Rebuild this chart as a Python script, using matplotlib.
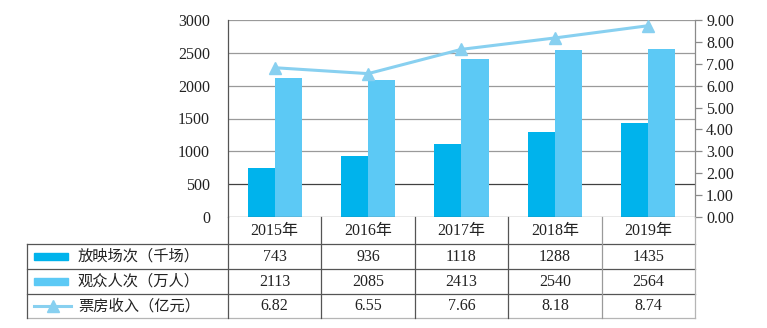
import matplotlib
matplotlib.use("Agg")
import matplotlib.pyplot as plt
from matplotlib.patches import Rectangle
from matplotlib.lines import Line2D
import numpy as np

plt.rcParams['font.family'] = ['Liberation Serif', 'Noto Sans CJK SC', 'DejaVu Sans']

years = ["2015年", "2016年", "2017年", "2018年", "2019年"]
screenings = [743, 936, 1118, 1288, 1435]        # 放映场次（千场）
audience = [2113, 2085, 2413, 2540, 2564]        # 观众人次（万人）
box_office = [6.82, 6.55, 7.66, 8.18, 8.74]      # 票房收入（亿元）
series_names = ["放映场次（千场）", "观众人次（万人）", "票房收入（亿元）"]
box_labels = ["6.82", "6.55", "7.66", "8.18", "8.74"]

c_dark = "#00B3EC"
c_light = "#5CC9F5"
c_line = "#88D0F0"

W, H = 767, 328
fig = plt.figure(figsize=(W / 100, H / 100), dpi=100)

def fx(px):
    return px / W

def fy(py):
    return 1 - py / H

x0, x1 = 228, 695
y_top, y_zero, y_bot = 20, 217, 318

ax = fig.add_axes([fx(x0), fy(y_zero), fx(x1 - x0), (y_zero - y_top) / H])
ax2 = ax.twinx()

x = np.arange(len(years))
bw = 0.29
ax.bar(x - bw / 2, screenings, width=bw, color=c_dark, zorder=3)
ax.bar(x + bw / 2, audience, width=bw, color=c_light, zorder=3)
ax.set_xlim(-0.5, len(years) - 0.5)
ax.set_ylim(0, 3000)
ax.set_yticks(np.arange(0, 3001, 500))
ax.set_xticks([])
for v in range(500, 3001, 500):
    ax.axhline(v, color="#404040" if v == 500 else "#9a9a9a", lw=0.9, zorder=1)
ax.axhline(0, color="#555555", lw=0.9, zorder=4)
for s in ["top", "bottom", "right"]:
    ax.spines[s].set_visible(False)
ax.spines["left"].set_color("#555555")
ax.spines["left"].set_linewidth(0.9)
ax.tick_params(axis="y", length=0, pad=13, labelsize=11.5, colors="#222222")

ax2.plot(x, box_office, color=c_line, lw=2.2, marker="^", ms=8.5, zorder=5)
ax2.set_ylim(0, 9)
ax2.set_yticks(np.arange(0, 9.01, 1))
ax2.set_yticklabels([f"{v:.2f}" for v in np.arange(0, 9.01, 1)])
for s in ["top", "bottom", "left"]:
    ax2.spines[s].set_visible(False)
ax2.spines["right"].set_color("#8a8a8a")
ax2.spines["right"].set_linewidth(0.9)
ax2.tick_params(axis="y", length=5, width=0.9, color="#8a8a8a", pad=3, labelsize=11.5, labelcolor="#222222")

# Data table below the plot
tl = 27
units_per_px = (len(years)) / (x1 - x0)
xleft = -0.5 - (x0 - tl) * units_per_px
tax = fig.add_axes([fx(tl), fy(y_bot), fx(x1 - tl), (y_bot - y_zero) / H])
tax.set_xlim(xleft, len(years) - 0.5)
tax.set_ylim(y_bot, y_zero)
tax.axis("off")

rows = [217, 244, 269, 294, 318]
dk = "#555555"
lt = "#b5b5b5"
# horizontal lines
for i, yy in enumerate(rows[1:]):
    col = lt if yy == 318 else dk
    tax.plot([xleft, len(years) - 0.5], [yy, yy], color=col, lw=0.9, clip_on=False)
# vertical lines
tax.plot([xleft, xleft], [244, 318], color=dk, lw=0.9, clip_on=False)
tax.plot([-0.5, -0.5], [217, 318], color=dk, lw=0.9, clip_on=False)
for b in [0.5, 1.5, 2.5]:
    tax.plot([b, b], [217, 318], color=dk, lw=0.9, clip_on=False)
tax.plot([3.5, 3.5], [217, 318], color="#9a9a9a", lw=0.9, clip_on=False)
tax.plot([4.5, 4.5], [217, 318], color=lt, lw=0.9, clip_on=False)

# year header
for i, yl in enumerate(years):
    tax.text(i, (217 + 244) / 2 + 1, yl, ha="center", va="center", fontsize=11.5, color="#222222")

row_vals = [[str(v) for v in screenings], [str(v) for v in audience], box_labels]
for r in range(3):
    yc = (rows[r + 1] + rows[r + 2]) / 2
    for i in range(len(years)):
        tax.text(i, yc + 0.5, row_vals[r][i], ha="center", va="center", fontsize=11.5, color="#222222")
    tax.text(xleft + (78 - tl) * units_per_px, yc, series_names[r], ha="left", va="center",
             fontsize=11, color="#222222")

# legend keys in table
kx0 = xleft + (34 - tl) * units_per_px
kx1 = xleft + (68 - tl) * units_per_px
for r, c in enumerate([c_dark, c_light]):
    yc = (rows[r + 1] + rows[r + 2]) / 2
    tax.add_patch(Rectangle((kx0, yc - 3.5), kx1 - kx0, 7, color=c, clip_on=False))
yc = (rows[3] + rows[4]) / 2
lx1 = xleft + (71 - tl) * units_per_px
tax.plot([kx0, lx1], [yc, yc], color=c_line, lw=2.2, clip_on=False)
tax.plot([(kx0 + lx1) / 2], [yc], marker="^", ms=8, color=c_line, clip_on=False)

fig.savefig("out.png", dpi=100)
